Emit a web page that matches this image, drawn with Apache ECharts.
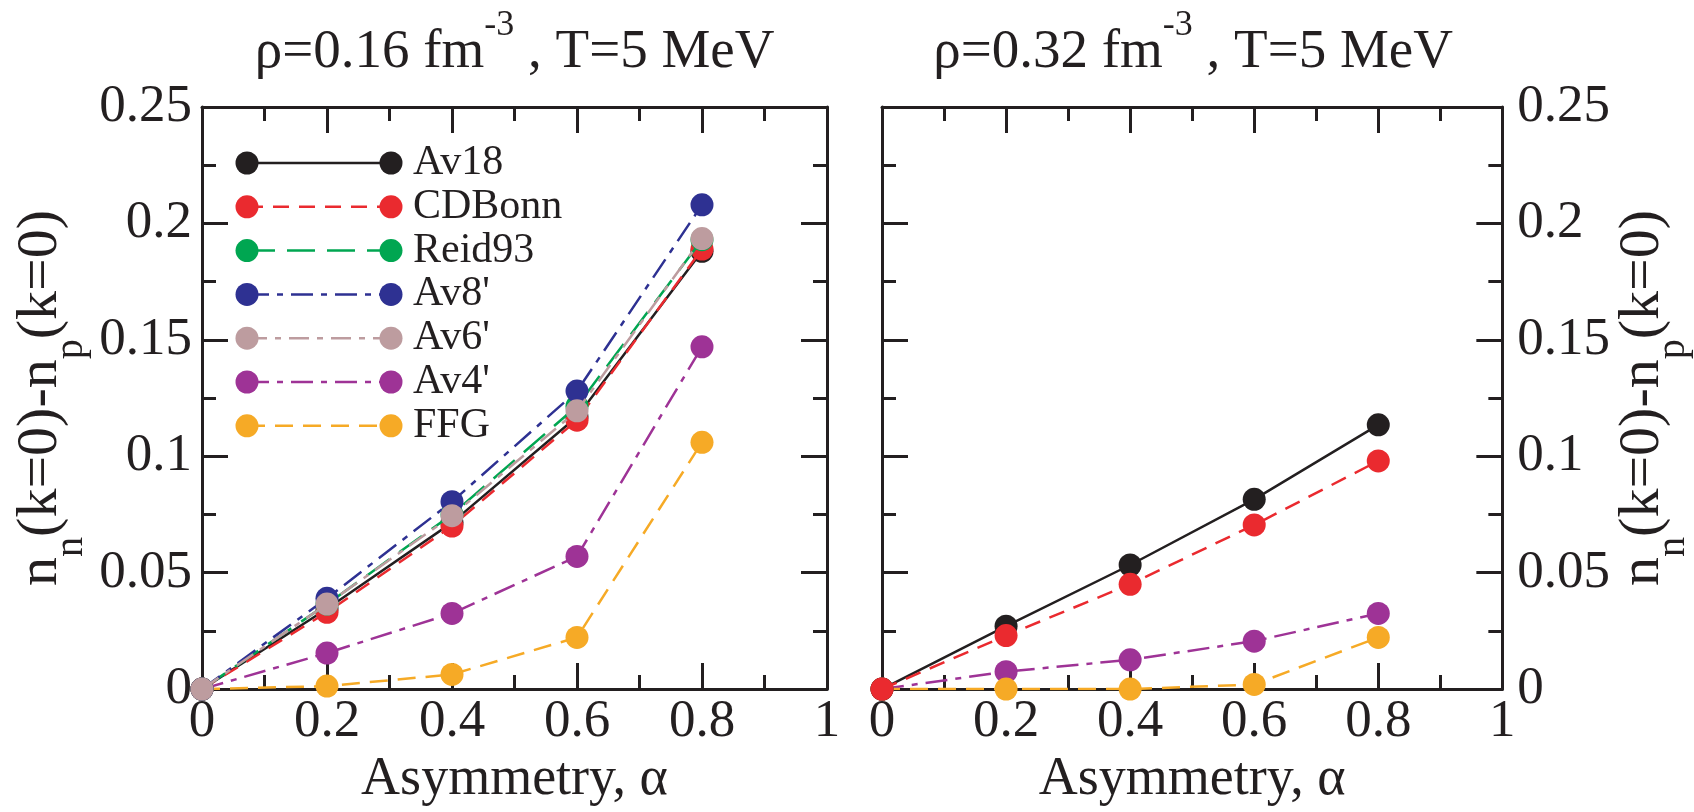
<!DOCTYPE html>
<html>
<head>
<meta charset="utf-8">
<script src="https://cdn.jsdelivr.net/npm/echarts@6/dist/echarts.min.js"></script>
<style>
  html, body { margin: 0; padding: 0; background: #fff; }
  #chart { width: 1694px; height: 812px; }
</style>
</head>
<body>
<div id="chart"></div>
<script>
// Asymmetry values on the x axis
const alpha = [0, 0.2, 0.4, 0.6, 0.8];

// n_n(k=0) - n_p(k=0) at rho = 0.16 fm^-3, T = 5 MeV
const av18_016   = [0, 0.0345, 0.0715, 0.1170, 0.1880];
const cdbonn_016 = [0, 0.0330, 0.0700, 0.1155, 0.1890];
const reid93_016 = [0, 0.0365, 0.0750, 0.1215, 0.1930];
const av8_016    = [0, 0.0390, 0.0805, 0.1280, 0.2080];
const av6_016    = [0, 0.0365, 0.0745, 0.1195, 0.1935];
const av4_016    = [0, 0.0155, 0.0325, 0.0570, 0.1470];
const ffg_016    = [0, 0.0013, 0.0063, 0.0222, 0.1060];

// n_n(k=0) - n_p(k=0) at rho = 0.32 fm^-3, T = 5 MeV
const av18_032   = [0, 0.0270, 0.0533, 0.0815, 0.1135];
const cdbonn_032 = [0, 0.0230, 0.0450, 0.0705, 0.0980];
const av4_032    = [0, 0.0075, 0.0126, 0.0206, 0.0325];
const ffg_032    = [0, 0.0000, 0.0000, 0.0020, 0.0222];

// Tick settings
const xTicks = { min: 0, max: 1, interval: 0.2 };
const yTicks = { min: 0, max: 0.25, interval: 0.05 };

const FONT = '"Liberation Serif", "DejaVu Serif", serif';
const INK = '#231f20';

// Line styles for each interaction model
const styles = {
  'Av18':   { color: '#231f20', dash: 'solid' },
  'CDBonn': { color: '#ea2a2f', dash: [16, 10] },
  'Reid93': { color: '#00a651', dash: [28, 12] },
  "Av8'":   { color: '#2e3192', dash: [22, 8, 6, 8] },
  "Av6'":   { color: '#bd9c9f', dash: [20, 8, 6, 8] },
  "Av4'":   { color: '#9e3396', dash: [22, 8, 6, 8] },
  'FFG':    { color: '#f6aa26', dash: [18, 10] }
};

// Panel geometry
const G0 = { left: 202, top: 107, width: 625, height: 593 };
const G1 = { left: 882, top: 107, width: 622, height: 593 };

function pairs(vals) { return alpha.map((a, i) => [a, vals[i]]); }

function lineSeries(name, vals, xi, yi, z) {
  const s = styles[name];
  return {
    type: 'line', name, data: pairs(vals),
    xAxisIndex: xi, yAxisIndex: yi, z,
    symbol: 'circle', symbolSize: 23,
    lineStyle: { color: s.color, width: 2.5, type: s.dash },
    itemStyle: { color: s.color },
    emphasis: { disabled: true },
    animation: false
  };
}

const tickCommon = {
  axisLine: { show: true, onZero: false, lineStyle: { color: INK, width: 3 } },
  axisTick: { show: true, inside: true, length: 26, lineStyle: { color: INK, width: 3 } },
  minorTick: { show: true, splitNumber: 2, length: 14, lineStyle: { color: INK, width: 3 } },
  splitLine: { show: false }
};

function xAxis(gridIndex, position, labelled) {
  return Object.assign({
    type: 'value', gridIndex, position,
    min: xTicks.min, max: xTicks.max, interval: xTicks.interval,
    axisLabel: { show: labelled, fontFamily: FONT, fontSize: 53, color: INK, margin: 6 },
    name: labelled ? 'Asymmetry, α' : '',
    nameLocation: 'middle', nameGap: 56,
    nameTextStyle: { fontFamily: FONT, fontSize: 54, color: INK }
  }, tickCommon);
}

// Axis title with subscripts; the spacer token sets the line height so
// the subscripts can sit well below the baseline.
const yNameText = '{h| }{a|n}{b|n}{a|(k=0)-n}{b|p}{a|(k=0)}';
const yNameRich = {
  h: { fontSize: 1, lineHeight: 79 },
  a: { fontFamily: FONT, fontSize: 58, color: INK, lineHeight: 58, verticalAlign: 'top' },
  b: { fontFamily: FONT, fontSize: 40, color: INK, lineHeight: 40, verticalAlign: 'bottom' }
};

function yAxis(gridIndex, position, labelled, margin, gap) {
  return Object.assign({
    type: 'value', gridIndex, position,
    min: yTicks.min, max: yTicks.max, interval: yTicks.interval,
    axisLabel: { show: labelled, fontFamily: FONT, fontSize: 53, color: INK, margin },
    name: labelled ? yNameText : '',
    nameLocation: 'middle', nameGap: gap,
    nameTextStyle: { rich: yNameRich }
  }, tickCommon);
}

// Panel titles with a raised exponent
function titleText(rho) {
  return '{h| }{a|ρ=' + rho + ' fm}{s|-3}{a| , T=5 MeV}';
}
const titleRich = {
  h: { fontSize: 1, lineHeight: 72 },
  a: { fontFamily: FONT, fontSize: 55, fill: INK, lineHeight: 55, verticalAlign: 'bottom' },
  s: { fontFamily: FONT, fontSize: 36, fill: INK, lineHeight: 36, verticalAlign: 'top' }
};

// Legend drawn inside the left panel: marker - line - marker, then label
const legendNames = ['Av18', 'CDBonn', 'Reid93', "Av8'", "Av6'", "Av4'", 'FFG'];
const legendGraphics = [];
legendNames.forEach((name, i) => {
  const s = styles[name];
  const y = 163 + i * 43.8;
  const x0 = 247, x1 = 391;
  legendGraphics.push({
    type: 'line', shape: { x1: x0, y1: y, x2: x1, y2: y },
    style: { stroke: s.color, lineWidth: 2.5, lineDash: s.dash === 'solid' ? null : s.dash }, z: 50
  });
  [x0, x1].forEach(cx => legendGraphics.push({
    type: 'circle', shape: { cx, cy: y, r: 11.5 }, style: { fill: s.color }, z: 51
  }));
  legendGraphics.push({
    type: 'text', x: 413, y,
    style: { text: name, fontFamily: FONT, fontSize: 42, fill: INK, align: 'left', verticalAlign: 'middle' }, z: 52
  });
});

const titleGraphics = [
  { type: 'text', x: G0.left + G0.width / 2, y: 8,
    style: { text: titleText('0.16'), rich: titleRich, align: 'center', verticalAlign: 'top' } },
  { type: 'text', x: G1.left + G1.width / 2, y: 8,
    style: { text: titleText('0.32'), rich: titleRich, align: 'center', verticalAlign: 'top' } }
];

const chart = echarts.init(document.getElementById('chart'), null, { renderer: 'canvas' });
chart.setOption({
  animation: false,
  backgroundColor: '#fff',
  grid: [
    Object.assign({ containLabel: false }, G0),
    Object.assign({ containLabel: false }, G1)
  ],
  xAxis: [
    xAxis(0, 'bottom', true),
    xAxis(0, 'top', false),
    xAxis(1, 'bottom', true),
    xAxis(1, 'top', false)
  ],
  yAxis: [
    yAxis(0, 'left', true, 10, 111),
    yAxis(0, 'right', false, 10, 0),
    yAxis(1, 'right', true, 15, 100),
    yAxis(1, 'left', false, 10, 0)
  ],
  series: [
    lineSeries("Av4'", av4_016, 0, 0, 2),
    lineSeries('FFG', ffg_016, 0, 0, 3),
    lineSeries('Av18', av18_016, 0, 0, 4),
    lineSeries('CDBonn', cdbonn_016, 0, 0, 5),
    lineSeries('Reid93', reid93_016, 0, 0, 6),
    lineSeries("Av8'", av8_016, 0, 0, 7),
    lineSeries("Av6'", av6_016, 0, 0, 8),

    lineSeries("Av4'", av4_032, 2, 2, 2),
    lineSeries('FFG', ffg_032, 2, 2, 3),
    lineSeries('Av18', av18_032, 2, 2, 4),
    lineSeries('CDBonn', cdbonn_032, 2, 2, 5)
  ],
  graphic: titleGraphics.concat(legendGraphics)
});
</script>
</body>
</html>
